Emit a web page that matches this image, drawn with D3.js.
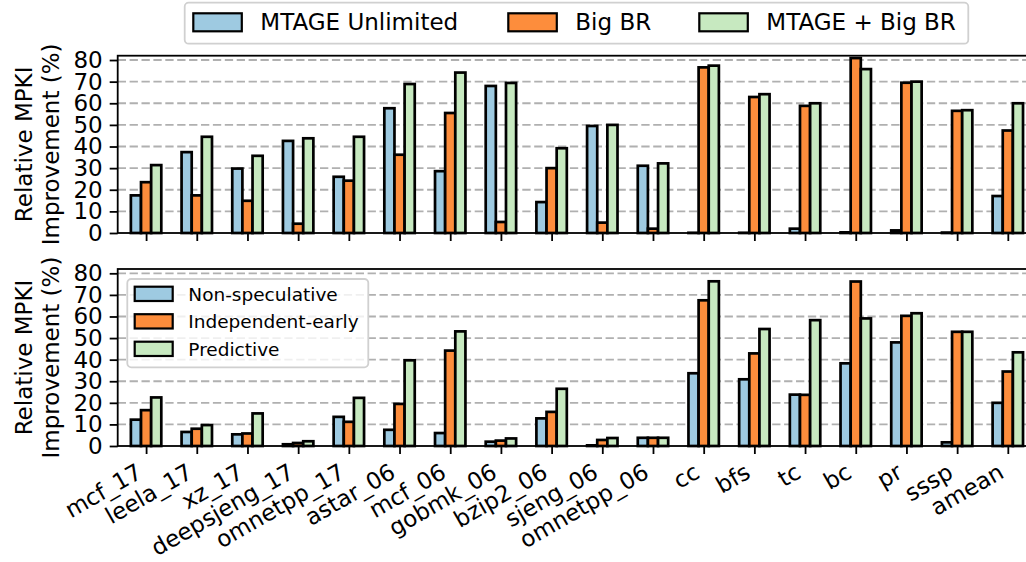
<!DOCTYPE html>
<html>
<head>
<meta charset="utf-8">
<script src="https://cdn.jsdelivr.net/npm/d3@7"></script>
<style>
  html, body { margin: 0; padding: 0; background: #fff; }
  svg { display: block; font-family: "DejaVu Sans", sans-serif; }
</style>
</head>
<body>
<svg id="chart" width="1026" height="562"></svg>
<script>
const categories = ["mcf_17","leela_17","xz_17","deepsjeng_17","omnetpp_17","astar_06","mcf_06","gobmk_06","bzip2_06","sjeng_06","omnetpp_06","cc","bfs","tc","bc","pr","sssp","amean"];

const topSeriesNames = ["MTAGE Unlimited", "Big BR", "MTAGE + Big BR"];
const topMtage  = [17.4, 37.4, 29.8, 42.6, 26.0, 57.7, 28.6, 68.0, 14.3, 49.5, 31.1, 0.1, 0.1, 2.0, 0.3, 1.2, 0.2, 17.1];
const topBigBR  = [23.5, 17.4, 14.9, 4.3, 24.2, 36.2, 55.5, 5.1, 30.0, 4.8, 2.0, 76.6, 62.9, 58.8, 80.9, 69.5, 56.5, 47.4];
const topBoth   = [31.4, 44.5, 35.7, 43.8, 44.5, 68.9, 74.2, 69.4, 39.2, 50.0, 32.2, 77.4, 64.2, 60.0, 75.8, 70.0, 56.8, 60.0];

const bottomSeriesNames = ["Non-speculative", "Independent-early", "Predictive"];
const bottomNonSpec = [12.2, 6.5, 5.4, 0.8, 13.5, 7.5, 6.0, 2.0, 12.8, 0.3, 3.8, 33.7, 30.9, 23.8, 38.3, 48.0, 1.7, 20.0];
const bottomIndep   = [16.6, 8.0, 5.8, 1.4, 11.2, 19.5, 44.2, 2.5, 15.8, 2.8, 3.8, 67.5, 42.9, 23.7, 76.2, 60.3, 52.9, 34.5];
const bottomPred    = [22.5, 9.7, 15.1, 2.2, 22.3, 39.7, 53.1, 3.5, 26.5, 3.7, 3.8, 76.3, 54.2, 58.3, 59.1, 61.5, 52.9, 43.4];

const yTicks = [0, 10, 20, 30, 40, 50, 60, 70, 80];
const colors = ["#9ecae1", "#fd8d3c", "#c7e9c0"];
const yLabelLines = ["Relative MPKI", "Improvement (%)"];

const svg = d3.select("#chart");
const FS = 23;
const left = 117.7, right = 1036.2;
const x = d3.scaleLinear().domain([-0.56, 17.56]).range([left, right]);
const barW = 0.2;
const offsets = [-0.2, 0, 0.2];

function panel(top, bottom, series, showLabels) {
  const y = d3.scaleLinear().domain([0, 82]).range([bottom, top]);
  const g = svg.append("g");
  // grid
  g.append("g").selectAll("line").data(yTicks.filter(d => d > 0)).join("line")
    .attr("x1", left).attr("x2", right)
    .attr("y1", d => y(d)).attr("y2", d => y(d))
    .attr("stroke", "#b0b0b0").attr("stroke-width", 1.8)
    .attr("stroke-dasharray", "8.3,3.6");
  // bars
  series.forEach((vals, si) => {
    g.append("g").selectAll("rect").data(vals).join("rect")
      .attr("x", (d, i) => x(i + offsets[si] - barW / 2))
      .attr("width", x(barW) - x(0))
      .attr("y", d => y(d))
      .attr("height", d => y(0) - y(d))
      .attr("fill", colors[si])
      .attr("stroke", "#000").attr("stroke-width", 2.7);
  });
  // y axis
  const ya = d3.axisLeft(y).tickValues(yTicks).tickSize(8).tickPadding(7).tickFormat(d3.format("d"));
  const yg = g.append("g").attr("transform", `translate(${left},0)`).call(ya);
  yg.select(".domain").remove();
  yg.selectAll("line").attr("stroke", "#000").attr("stroke-width", 1.8);
  yg.selectAll("text").attr("font-size", FS).attr("font-family", "DejaVu Sans").attr("fill", "#000");
  // x axis
  const xa = d3.axisBottom(x).tickValues(d3.range(categories.length)).tickSize(8).tickFormat("");
  const xg = g.append("g").attr("transform", `translate(0,${bottom})`).call(xa);
  xg.select(".domain").remove();
  xg.selectAll("line").attr("stroke", "#000").attr("stroke-width", 1.8);
  if (showLabels) {
    const a = 0.76 * FS, dsc = 0.22 * FS;
    const topY = bottom + 8 + 7.5;
    g.append("g").selectAll("text").data(categories).join("text")
      .attr("transform", (d, i) => `translate(${x(i) - dsc / 2},${topY + 0.866 * a}) rotate(-30)`)
      .attr("text-anchor", "end")
      .attr("font-size", FS).attr("fill", "#000")
      .text(d => d);
  }
  // spines
  g.append("rect").attr("x", left).attr("y", top).attr("width", right - left).attr("height", bottom - top)
    .attr("fill", "none").attr("stroke", "#000").attr("stroke-width", 1.8);
  // y label
  const cy = (top + bottom) / 2;
  const yl = g.append("text").attr("transform", `translate(31.5,${cy}) rotate(-90)`)
    .attr("text-anchor", "middle").attr("font-size", FS).attr("fill", "#000");
  yl.append("tspan").attr("x", 0).attr("dy", 0).text(yLabelLines[0]);
  yl.append("tspan").attr("x", 0).attr("dy", 27.8).text(yLabelLines[1]);
  return y;
}

panel(55.7, 233, [topMtage, topBigBR, topBoth], false);
panel(269, 446, [bottomNonSpec, bottomIndep, bottomPred], true);

// top legend
const tl = svg.append("g");
tl.append("rect").attr("x", 184.7).attr("y", 2.7).attr("width", 968.3 - 184.7).attr("height", 41)
  .attr("rx", 4).attr("fill", "#fff").attr("fill-opacity", 0.8).attr("stroke", "#d0d0d0").attr("stroke-width", 1.8);
const tlPatchX = [193.3, 508.3, 699.3];
topSeriesNames.forEach((n, i) => {
  tl.append("rect").attr("x", tlPatchX[i]).attr("y", 13.3).attr("width", 48.5).attr("height", 18)
    .attr("fill", colors[i]).attr("stroke", "#000").attr("stroke-width", 2.2);
  tl.append("text").attr("x", tlPatchX[i] + 67).attr("y", 30).attr("font-size", FS).attr("fill", "#000").text(n);
});

// bottom legend
const bl = svg.append("g");
bl.append("rect").attr("x", 127.3).attr("y", 279).attr("width", 368.3 - 127.3).attr("height", 88.3)
  .attr("rx", 4).attr("fill", "#fff").attr("fill-opacity", 0.8).attr("stroke", "#d0d0d0").attr("stroke-width", 1.8);
const LFS = 18.5;
bottomSeriesNames.forEach((n, i) => {
  const py = 286.7 + i * 27.5;
  bl.append("rect").attr("x", 134.7).attr("y", py).attr("width", 38).attr("height", 14.3)
    .attr("fill", colors[i]).attr("stroke", "#000").attr("stroke-width", 2.2);
  bl.append("text").attr("x", 188.3).attr("y", py + 14).attr("font-size", LFS).attr("fill", "#000").text(n);
});
</script>
</body>
</html>
